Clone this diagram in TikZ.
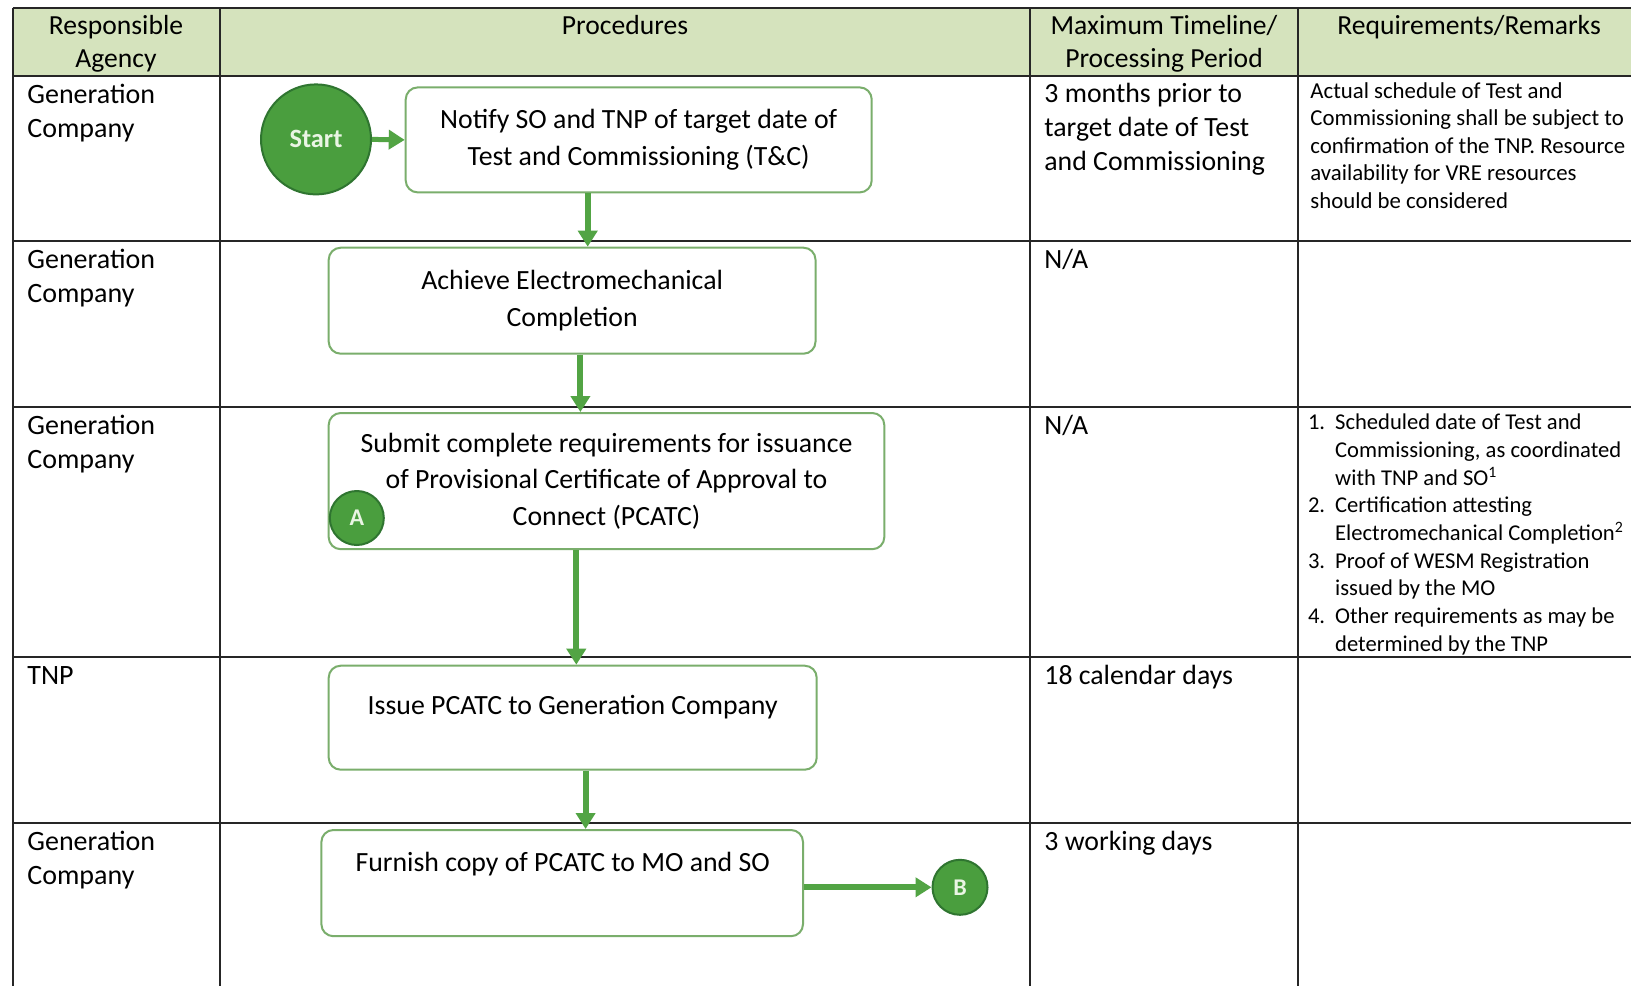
\documentclass[tikz,border=0pt]{standalone}
\usepackage{fontspec}
\setmainfont{Carlito}
\usetikzlibrary{arrows.meta}
\definecolor{hdrfill}{HTML}{D5E3BD}
\definecolor{startfill}{HTML}{4A9E3E}
\definecolor{startdraw}{HTML}{2F7530}
\definecolor{flowgreen}{HTML}{52A444}
\definecolor{boxline}{HTML}{7AAE6C}
\definecolor{dottext}{HTML}{EAF5E4}
\newcommand{\hdrfont}{\fontsize{13.8}{16.6}\selectfont}
\newcommand{\agencyfont}{\fontsize{14}{17}\selectfont}
\newcommand{\timefont}{\fontsize{13.9}{17}\selectfont}
\newcommand{\remfont}{\fontsize{11.4}{13.75}\selectfont}
\newcommand{\listfont}{\fontsize{11.3}{13.85}\selectfont}
\newcommand{\procfont}{\fontsize{13.9}{18.2}\selectfont}
\begin{document}
\begin{tikzpicture}[x=0.5pt,y=-0.5pt,
  tbl/.style={line width=1pt, draw=black!85},
  procbox/.style={draw=boxline, line width=1pt, rounded corners=6pt, fill=white, align=center, font=\procfont, inner sep=0pt},
  proctext/.style={align=center, font=\procfont, inner sep=0pt},
  flow/.style={draw=flowgreen, line width=3pt, -{Triangle[length=8pt,width=9.5pt]}, fill=flowgreen},
  bigdot/.style={circle, fill=startfill, draw=startdraw, line width=1pt, text=dottext, inner sep=0pt},
  celltext/.style={anchor=north west, inner sep=0pt, align=left},
  hdrtext/.style={anchor=north, inner sep=0pt, align=center, font=\hdrfont}]
\useasboundingbox (0,0) rectangle (1631,985);
\clip (0,0) rectangle (1631,985);
\fill[white] (0,0) rectangle (1631,985);
% header
\fill[hdrfill] (12.5,8) rectangle (1640,76);
% grid
\draw[tbl] (12.5,8) -- (1640,8);
\draw[tbl] (12.5,76) -- (1640,76);
\draw[tbl] (12.5,241) -- (1640,241);
\draw[tbl] (12.5,407) -- (1640,407);
\draw[tbl] (12.5,657) -- (1640,657);
\draw[tbl] (12.5,823) -- (1640,823);
\draw[tbl] (12.5,8) -- (12.5,990);
\draw[tbl] (219.5,8) -- (219.5,990);
\draw[tbl] (1030,8) -- (1030,990);
\draw[tbl] (1298,8) -- (1298,990);
% header texts
\node[hdrtext] (h1) at (116,15) {Responsible\\Agency};
\node[hdrtext] (h2) at (625,15) {Procedures};
\node[hdrtext] (h3) at (1164,15) {Maximum Timeline/\\Processing Period};
\node[hdrtext] (h4) at (1469,15) {Requirements/Remarks};
% agency column
\node[celltext, font=\agencyfont] (a1) at (27,84) {Generation\\Company};
\node[celltext, font=\agencyfont] (a2) at (27,249) {Generation\\Company};
\node[celltext, font=\agencyfont] (a3) at (27,415) {Generation\\Company};
\node[celltext, font=\agencyfont] (a4) at (27,666) {TNP};
\node[celltext, font=\agencyfont] (a5) at (27,831) {Generation\\Company};
% timeline column
\node[celltext, font=\timefont] (t1) at (1044,83) {3 months prior to\\target date of Test\\and Commissioning};
\node[celltext, font=\timefont] (t2) at (1044,249) {N/A};
\node[celltext, font=\timefont] (t3) at (1044,415) {N/A};
\node[celltext, font=\timefont] (t4) at (1044,665) {18 calendar days};
\node[celltext, font=\timefont] (t5) at (1044,831) {3 working days};
% remarks column
\node[celltext, font=\remfont] (r1) at (1310,82) {Actual schedule of Test and\\Commissioning shall be subject to\\confirmation of the TNP. Resource\\availability for VRE resources\\should be considered};
\node[celltext, font=\listfont] (r3) at (1307.6,410) {\begin{tabular}{@{}l@{\hspace{5pt}}l@{}}
1. & Scheduled date of Test and\\
   & Commissioning, as coordinated\\
   & with TNP and SO\textsuperscript{1}\\
2. & Certification attesting\\
   & Electromechanical Completion\textsuperscript{2}\\
3. & Proof of WESM Registration\\
   & issued by the MO\\
4. & Other requirements as may be\\
   & determined by the TNP
\end{tabular}};
% flowchart
\node[bigdot, minimum size=55pt, font=\fontsize{13.2}{15}\selectfont\bfseries] (start) at (316,139.4) {Start};
\node[procbox, minimum width=233pt, minimum height=52.5pt] (b1) at (638.7,139.9) {Notify SO and TNP of target date of\\Test and Commissioning (T\&C)};
\node[procbox, minimum width=243.4pt, minimum height=53pt] (b2) at (572.1,300.7) {Achieve Electromechanical\\Completion};
\node[procbox, minimum width=277.8pt, minimum height=68.1pt] (b3) at (606.5,481.1) {Submit complete requirements for issuance\\of Provisional Certificate of Approval to\\Connect (PCATC)};
\node[procbox, minimum width=244pt, minimum height=52pt] (b4) at (572.7,717.7) {};
\node[proctext] (b4t) at (572.7,707.3) {Issue PCATC to Generation Company};
\node[procbox, minimum width=240.8pt, minimum height=53.1pt] (b5) at (562.2,883.1) {};
\node[proctext] (b5t) at (562.7,864.4) {Furnish copy of PCATC to MO and SO};
\node[bigdot, minimum size=27pt, font=\fontsize{12}{14}\selectfont\bfseries] (ca) at (356.8,518) {A};
\node[bigdot, minimum size=27.5pt, font=\fontsize{12}{14}\selectfont\bfseries] (cb) at (960,887.3) {B};
% connectors
\coordinate (x12) at (587.7,0);
\coordinate (x23) at (580.4,0);
\coordinate (x34) at (576.3,0);
\coordinate (x45) at (585.6,0);
\draw[flow, line width=2.5pt] (start.east) -- (b1.west);
\draw[flow] (b1.south -| x12) -- (b2.north -| x12);
\draw[flow] (b2.south -| x23) -- (b3.north -| x23);
\draw[flow] (b3.south -| x34) -- (b4.north -| x34);
\draw[flow] (b4.south -| x45) -- (b5.north -| x45);
\draw[flow] (b5.east |- cb) -- (cb.west);
\end{tikzpicture}
\end{document}
